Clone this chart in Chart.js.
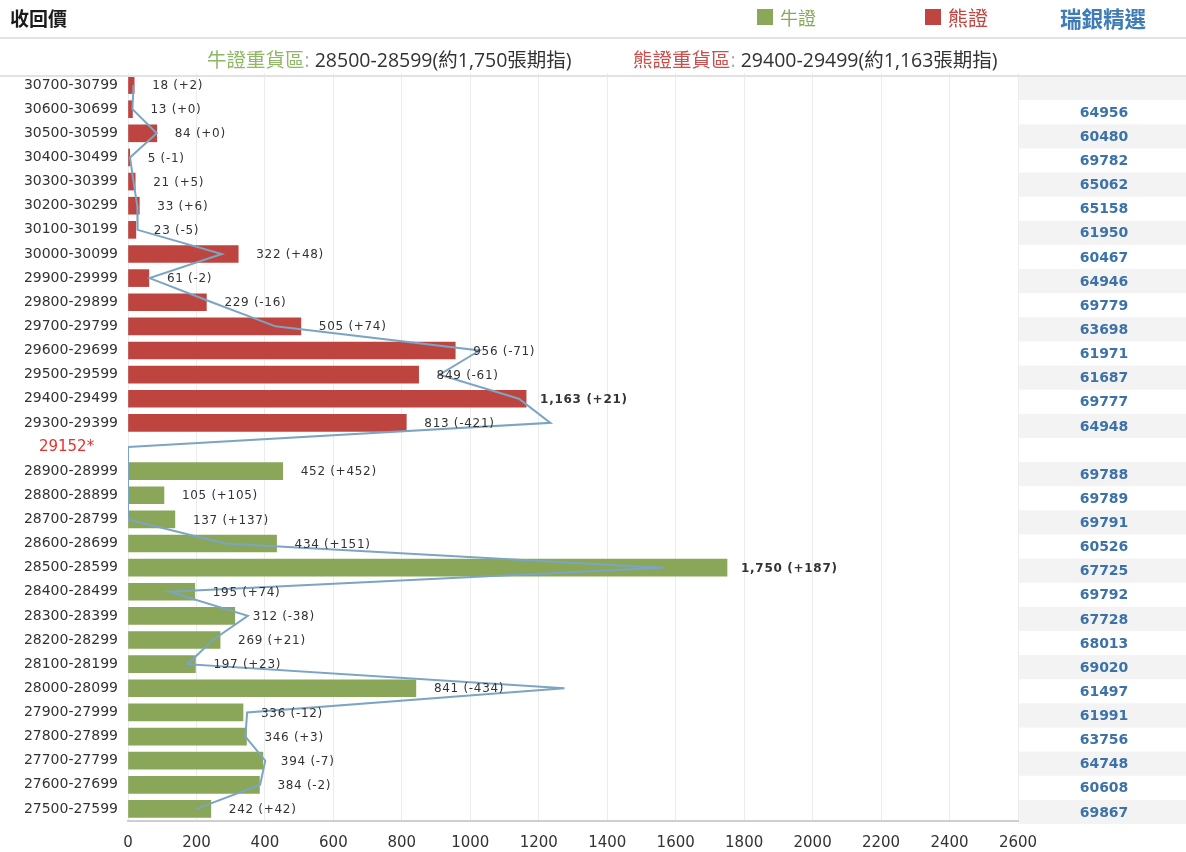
<!DOCTYPE html>
<html>
<head>
<meta charset="utf-8">
<script src="https://cdn.jsdelivr.net/npm/chart.js@4"></script>
<style>
  body { margin: 0; background: #fff; width: 1186px; height: 852px; overflow: hidden; position: relative; font-family: "Noto Sans CJK TC", "DejaVu Sans", sans-serif; }
  #chart { position: absolute; left: 0; top: 0; }
  .abs { position: absolute; white-space: nowrap; }
  #title { left: 10px; top: 4px; font-size: 19px; font-weight: bold; color: #1b1b1b; }
  .sq { width: 16px; height: 16px; top: 9px; }
  .leg { top: 4px; font-size: 18px; }
  .rule { left: 0; width: 1186px; height: 2px; background: #e2e2e2; }
  .sub { top: 44px; font-size: 19.5px; color: #333; font-family: "Open Sans", "Noto Sans CJK TC", sans-serif; }
  .sub span { font-family: "Noto Sans CJK TC", sans-serif; }
</style>
</head>
<body>
<canvas id="chart" width="1186" height="852"></canvas>

<div class="abs" id="title">收回價</div>
<div class="abs sq" style="left:757px;background:#8aa85a"></div>
<div class="abs leg" style="left:780px;color:#8aa85a">牛證</div>
<div class="abs sq" style="left:925px;background:#c0443f"></div>
<div class="abs leg" style="left:948px;color:#c0443f;font-size:20px;top:3px">熊證</div>
<div class="abs leg" style="left:1060px;color:#3f7cb6;font-weight:bold;font-size:21.5px;top:2px">瑞銀精選</div>
<div class="abs rule" style="top:37px"></div>

<div class="abs sub" style="left:207px"><span style="color:#8fb866">牛證重貨區</span><b style="color:#aaa;font-weight:normal">:</b> 28500-28599(約1,750張期指)</div>
<div class="abs sub" style="left:633px"><span style="color:#c9504c">熊證重貨區</span><b style="color:#aaa;font-weight:normal">:</b> 29400-29499(約1,163張期指)</div>
<div class="abs rule" style="top:75px"></div>

<script>
// price ranges (top to bottom), row 15 is the current level
var labels = ['30700-30799','30600-30699','30500-30599','30400-30499','30300-30399','30200-30299','30100-30199',
  '30000-30099','29900-29999','29800-29899','29700-29799','29600-29699','29500-29599','29400-29499','29300-29399',
  '29152*',
  '28900-28999','28800-28899','28700-28799','28600-28699','28500-28599','28400-28499','28300-28399','28200-28299',
  '28100-28199','28000-28099','27900-27999','27800-27899','27700-27799','27600-27699','27500-27599'];

// 熊證 (bear) values
var bearValues = [18, 13, 84, 5, 21, 33, 23, 322, 61, 229, 505, 956, 849, 1163, 813,
  null, null, null, null, null, null, null, null, null, null, null, null, null, null, null, null];

// 牛證 (bull) values
var bullValues = [null, null, null, null, null, null, null, null, null, null, null, null, null, null, null,
  null, 452, 105, 137, 434, 1750, 195, 312, 269, 197, 841, 336, 346, 394, 384, 242];

// daily change shown in brackets
var changes = [2, 0, 0, -1, 5, 6, -5, 48, -2, -16, 74, -71, -61, 21, -421,
  null, 452, 105, 137, 151, 187, 74, -38, 21, 23, -434, -12, 3, -7, -2, 42];

// previous day line
var prevValues = [16, 13, 84, 6, 16, 27, 28, 274, 63, 245, 431, 1027, 910, 1142, 1234,
  0, 0, 0, 0, 283, 1563, 121, 350, 248, 174, 1275, 348, 343, 401, 386, 200];

// 瑞銀精選 codes
var codes = ['', '64956', '60480', '69782', '65062', '65158', '61950', '60467', '64946', '69779', '63698',
  '61971', '61687', '69777', '64948', '', '69788', '69789', '69791', '60526', '67725', '69792', '67728',
  '68013', '69020', '61497', '61991', '63756', '64748', '60608', '69867'];

var xTicks = { min: 0, max: 2600, step: 200 };
var spotIndex = 15;

/* ------------------
  striped code column on the right
-------------------*/
var codeColumn = {
  id: 'codeColumn',
  beforeDraw: function (chart) {
    var ctx = chart.ctx, area = chart.chartArea, y = chart.scales.y;
    var band = (area.bottom - area.top) / labels.length;
    ctx.save();
    ctx.fillStyle = '#fff';
    ctx.fillRect(0, 0, chart.width, chart.height);
    ctx.fillStyle = '#f3f3f3';
    for (var i = 0; i < labels.length; i += 2) {
      ctx.fillRect(area.right, y.getPixelForTick(i) - band / 2 + 3, chart.width - area.right, band);
    }
    ctx.restore();
  },
  afterDraw: function (chart) {
    var ctx = chart.ctx, area = chart.chartArea, y = chart.scales.y;
    ctx.save();
    ctx.fillStyle = '#3d72a8';
    ctx.font = 'bold 14px "DejaVu Sans"';
    ctx.textAlign = 'center';
    ctx.textBaseline = 'middle';
    codes.forEach(function (c, i) {
      if (c) ctx.fillText(c, area.right + 86, y.getPixelForTick(i) + 4);
    });
    ctx.restore();
  }
};

/* ------------------
  value (+change) labels
-------------------*/
function fmt(v, c) {
  return v.toLocaleString('en-US') + ' (' + (c >= 0 ? '+' : '') + c + ')';
}

var barLabels = {
  id: 'barLabels',
  afterDatasetsDraw: function (chart) {
    var ctx = chart.ctx;
    ctx.save();
    ctx.fillStyle = '#333';
    ctx.textBaseline = 'middle';
    ctx.textAlign = 'left';
    ctx.letterSpacing = '0.7px';
    [0, 1].forEach(function (di) {
      var data = chart.data.datasets[di].data;
      var max = Math.max.apply(null, data.filter(function (d) { return d != null; }));
      chart.getDatasetMeta(di).data.forEach(function (bar, j) {
        var v = data[j];
        if (v == null) return;
        var bold = v === max;
        ctx.font = (bold ? 'bold ' : '') + '12px "DejaVu Sans"';
        ctx.fillText(fmt(v, changes[j]), bar.x + (bold ? 14 : 18), bar.y + 1);
      });
    });
    ctx.restore();
  }
};

var chart = new Chart(document.getElementById('chart'), {
  type: 'bar',
  data: {
    labels: labels,
    datasets: [
      {
        label: '熊證',
        data: bearValues,
        backgroundColor: '#be4440',
        barThickness: 17,
        grouped: false,
        order: 1
      },
      {
        label: '牛證',
        data: bullValues,
        backgroundColor: '#8aa658',
        barThickness: 17,
        grouped: false,
        order: 1
      },
      {
        type: 'line',
        label: 'prev',
        data: prevValues,
        indexAxis: 'y',
        borderColor: '#7ba5c3',
        borderWidth: 2,
        pointRadius: 0,
        tension: 0,
        fill: false,
        order: 0
      }
    ]
  },
  options: {
    indexAxis: 'y',
    responsive: false,
    animation: false,
    layout: { padding: { top: 73, left: 0, right: 168, bottom: 0 } },
    plugins: {
      legend: { display: false },
      tooltip: { enabled: false }
    },
    scales: {
      x: {
        min: xTicks.min,
        max: xTicks.max,
        ticks: {
          stepSize: xTicks.step,
          color: '#333',
          font: { family: 'DejaVu Sans', size: 15 },
          padding: 13,
          callback: function (v) { return String(v); }
        },
        grid: { color: '#ececec', drawTicks: false },
        border: { color: '#cfcfcf', width: 2 },
        afterFit: function (s) { s.height = 31; }
      },
      y: {
        position: 'left',
        grid: { display: false, drawTicks: false },
        border: { display: false },
        ticks: {
          autoSkip: false,
          padding: 10,
          callback: function (v, i) { return i === spotIndex ? labels[i] + '     ' : labels[i]; },
          color: function (c) { return c.index === spotIndex ? '#e8312f' : '#333'; },
          font: function (c) { return { family: 'DejaVu Sans', size: c.index === spotIndex ? 15 : 14 }; }
        },
        afterFit: function (s) { s.width = 128; }
      }
    }
  },
  plugins: [codeColumn, barLabels]
});
</script>
</body>
</html>
